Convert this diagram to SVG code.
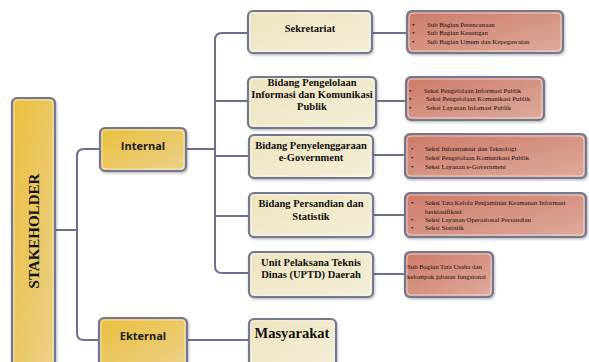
<svg xmlns="http://www.w3.org/2000/svg" width="589" height="362" viewBox="0 0 589 362">
<defs>
<linearGradient id="gold" x1="0" y1="0" x2="1" y2="1">
<stop offset="0" stop-color="#ebbf3c"/><stop offset="1" stop-color="#ead08a"/>
</linearGradient>
<linearGradient id="cream" x1="0" y1="0" x2="1" y2="1">
<stop offset="0" stop-color="#ede4bd"/><stop offset="1" stop-color="#f3eed8"/>
</linearGradient>
<linearGradient id="red" x1="0" y1="0" x2="1" y2="1">
<stop offset="0" stop-color="#cc7a66"/><stop offset="1" stop-color="#dfab9c"/>
</linearGradient>
<filter id="sh" x="-10%" y="-10%" width="120%" height="130%">
<feDropShadow dx="1" dy="1.5" stdDeviation="1" flood-color="#000" flood-opacity="0.25"/>
</filter>
</defs>
<style>
.box{stroke:#727792;stroke-width:2.2;filter:url(#sh)}
.in{fill:none;stroke:#ffffff;stroke-width:0.7;opacity:0.8}
.g{fill:url(#gold)}
.c{fill:url(#cream)}
.r{fill:url(#red)}
.con{fill:none;stroke:#6b7090;stroke-width:2}
.sans{font-family:"Open Sans","Liberation Sans",sans-serif;font-weight:bold;font-size:11px;fill:#1a1a1a;text-anchor:middle}
.ser{font-family:"Liberation Serif","Times New Roman",serif;font-weight:bold;font-size:10.5px;fill:#111;text-anchor:middle}
.big{font-size:14.5px}
.sm{font-family:"Liberation Serif","Times New Roman",serif;font-size:6.8px;fill:#201010}
</style>
<g id="connectors">
<path class="con" d="M55 230 H77"/>
<path class="con" d="M100 149 H84 Q77 149 77 156 V333 Q77 340 84 340 H100"/>
<path class="con" d="M187 149 H215"/>
<path class="con" d="M248 33 H222 Q215 33 215 40 V266 Q215 273 222 273 H249"/>
<path class="con" d="M215 101 H248"/>
<path class="con" d="M215 156 H249"/>
<path class="con" d="M215 216 H249"/>
<path class="con" d="M187 340 H249"/>
<path class="con" d="M372 33 H407"/>
<path class="con" d="M376 101 H406"/>
<path class="con" d="M373 155 H405"/>
<path class="con" d="M373 215 H405"/>
<path class="con" d="M373 274 H405"/>
</g>
<g id="stakeholder">
<rect class="box g" x="12" y="98" width="43" height="275" rx="5"/>
<rect class="in" x="14" y="100" width="39" height="271" rx="4"/>
<text transform="translate(39 231) rotate(-90)" font-family="Liberation Serif,serif" font-weight="bold" font-size="15" text-anchor="middle" fill="#111">STAKEHOLDER</text>
</g>
<g id="internal">
<rect class="box g" x="100" y="128" width="86" height="43" rx="5"/>
<rect class="in" x="102" y="130" width="82" height="39" rx="4"/>
<text class="sans" x="143" y="150">Internal</text>
</g>
<g id="ekternal">
<rect class="box g" x="99" y="318" width="88" height="50" rx="5"/>
<rect class="in" x="101" y="320" width="84" height="46" rx="4"/>
<text class="sans" x="143" y="340">Ekternal</text>
</g>
<g id="sekretariat">
<rect class="box c" x="248" y="11" width="124" height="42" rx="5"/>
<rect class="in" x="250" y="13" width="120" height="38" rx="4"/>
<text class="ser" x="310" y="32">Sekretariat</text>
</g>
<g id="pengelolaan">
<rect class="box c" x="248" y="77" width="128" height="51" rx="5"/>
<rect class="in" x="250" y="79" width="124" height="47" rx="4"/>
<text class="ser" x="312" y="86">Bidang Pengelolaan</text>
<text class="ser" x="312" y="98">Informasi dan Komunikasi</text>
<text class="ser" x="312" y="110">Publik</text>
</g>
<g id="penyelenggaraan">
<rect class="box c" x="249" y="135" width="124" height="43" rx="5"/>
<rect class="in" x="251" y="137" width="120" height="39" rx="4"/>
<text class="ser" x="311" y="149">Bidang Penyelenggaraan</text>
<text class="ser" x="311" y="161">e-Government</text>
</g>
<g id="persandian">
<rect class="box c" x="249" y="193" width="124" height="44" rx="5"/>
<rect class="in" x="251" y="195" width="120" height="40" rx="4"/>
<text class="ser" x="311" y="207">Bidang Persandian dan</text>
<text class="ser" x="311" y="220">Statistik</text>
</g>
<g id="uptd">
<rect class="box c" x="249" y="252" width="124" height="45" rx="5"/>
<rect class="in" x="251" y="254" width="120" height="41" rx="4"/>
<text class="ser" x="311" y="266">Unit Pelaksana Teknis</text>
<text class="ser" x="311" y="278">Dinas (UPTD) Daerah</text>
</g>
<g id="masyarakat">
<rect class="box c" x="249" y="319" width="87" height="50" rx="5"/>
<rect class="in" x="251" y="321" width="83" height="46" rx="4"/>
<text class="ser big" x="292" y="338">Masyarakat</text>
</g>
<g id="sub-sekretariat">
<rect class="box r" x="407" y="11" width="156" height="42" rx="5"/>
<rect class="in" x="409" y="13" width="152" height="38" rx="4"/>
<text class="sm" x="412" y="27">•</text><text class="sm" x="427" y="27">Sub Bagian Perencanaan</text>
<text class="sm" x="412" y="35">•</text><text class="sm" x="427" y="35">Sub Bagian Keuangan</text>
<text class="sm" x="412" y="44">•</text><text class="sm" x="427" y="44">Sub Bagian Umum dan Kepegawaian</text>
</g>
<g id="sub-pengelolaan">
<rect class="box r" x="406" y="77" width="138" height="43" rx="5"/>
<rect class="in" x="408" y="79" width="134" height="39" rx="4"/>
<text class="sm" x="409" y="93">•</text><text class="sm" x="424" y="93">Seksi Pengelolaan Informasi Publik</text>
<text class="sm" x="409" y="101">•</text><text class="sm" x="426" y="101">Seksi Pengelolaan Komunikasi Publik</text>
<text class="sm" x="409" y="110">•</text><text class="sm" x="426" y="110">Seksi Layanan Infomasi Publik</text>
</g>
<g id="sub-penyelenggaraan">
<rect class="box r" x="405" y="134" width="181" height="44" rx="5"/>
<rect class="in" x="407" y="136" width="177" height="40" rx="4"/>
<text class="sm" x="411" y="151">•</text><text class="sm" x="425" y="151">Seksi Infrastruktur dan Teknologi</text>
<text class="sm" x="411" y="160">•</text><text class="sm" x="425" y="160">Seksi Pengelolaan Komunikasi Publik</text>
<text class="sm" x="411" y="169">•</text><text class="sm" x="425" y="169">Seksi Layanan e-Government</text>
</g>
<g id="sub-persandian">
<rect class="box r" x="405" y="193" width="181" height="44" rx="5"/>
<rect class="in" x="407" y="195" width="177" height="40" rx="4"/>
<text class="sm" x="411" y="205">•</text><text class="sm" x="425" y="205">Seksi Tata Kelola Penjaminan Keamanan Informasi</text>
<text class="sm" x="425" y="214">berklasifikasi</text>
<text class="sm" x="411" y="222">•</text><text class="sm" x="425" y="222">Seksi Layanan Operasional Persandian</text>
<text class="sm" x="411" y="230">•</text><text class="sm" x="425" y="230">Seksi Statistik</text>
</g>
<g id="sub-uptd">
<rect class="box r" x="405" y="252" width="88" height="45" rx="5"/>
<rect class="in" x="407" y="254" width="84" height="41" rx="4"/>
<text class="sm" x="407" y="269">Sub Bagian Tata Usaha dan</text>
<text class="sm" x="407" y="279">kelompok jabatan fungsional</text>
</g>
</svg>
